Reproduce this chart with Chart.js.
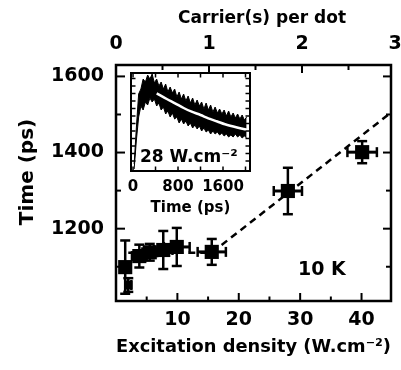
<!DOCTYPE html>
<html><head><meta charset="utf-8">
<script src="https://cdn.jsdelivr.net/npm/chart.js@4/dist/chart.umd.min.js"></script>
<style>
html,body{margin:0;padding:0;background:#fff;}
#wrap{position:relative;width:401px;height:370px;overflow:hidden;}
canvas{position:absolute;left:0;top:0;}
#inset{pointer-events:none;}
</style></head><body>
<div id="wrap"><canvas id="main" width="401" height="370"></canvas><canvas id="inset" width="401" height="370"></canvas></div>
<script>
// ---- main chart data ----
const excitationDensity = [1.5, 2.0, 3.8, 5.5, 7.7, 9.9, 15.6, 28.0, 40.1];
const excitationError   = [0.6, 0.5, 1.2, 1.2, 1.5, 2.1, 2.3, 2.3, 2.4];
const decayTime         = [1099, 1052, 1128, 1138, 1144, 1152, 1139, 1299, 1401];
const decayTimeError    = [70, 18, 30, 22, 50, 50, 34, 61, 29];
const guideDensity = [2.0, 15.6, 44.8];
const guideTime    = [1137, 1137, 1505];

const excitationTicks  = [5, 10, 15, 20, 25, 30, 35, 40];
const excitationLabels = [10, 20, 30, 40];
const timeTicks  = [1100, 1200, 1300, 1400, 1500, 1600];
const timeLabels = [1200, 1400, 1600];
const carrierTicks  = [0, 0.5, 1, 1.5, 2, 2.5, 3];
const carrierLabels = [0, 1, 2, 3];

// ---- inset data (transient at 28 W.cm-2) ----
const insetTime  = [20, 60, 100, 140, 180, 220, 260, 300, 340, 380, 420, 460, 500, 540, 580, 620, 660, 700, 740, 780, 820, 860, 900, 940, 980, 1020, 1060, 1100, 1140, 1180, 1220, 1260, 1300, 1340, 1380, 1420, 1460, 1500, 1540, 1580, 1620, 1660, 1700, 1740, 1780, 1820, 1860, 1900, 1940, 1980, 2020];
const insetUpper = [8, 45, 78, 83, 93, 90, 97, 93, 98, 89, 93, 86, 90, 83, 88, 80, 85, 79, 83, 75, 80, 73, 78, 71, 76, 69, 74, 67, 72, 66, 70, 63, 69, 62, 67, 60, 65, 59, 63, 58, 62, 56, 61, 55, 59, 54, 58, 53, 57, 52, 55];
const insetLower = [3, 32, 55, 66, 62, 70, 67, 74, 70, 73, 66, 69, 62, 65, 58, 61, 55, 59, 53, 55, 49, 53, 48, 51, 46, 49, 44, 47, 43, 46, 41, 44, 40, 42, 38, 41, 38, 40, 37, 39, 36, 38, 35, 37, 35, 38, 35, 37, 34, 36, 34];
const fitTime   = [421, 600, 747, 900, 1043, 1200, 1339, 1500, 1636, 1850, 2050];
const fitSignal = [78.7, 73, 68.7, 64, 60.3, 57, 53.7, 50.5, 47.7, 44.5, 42];
const insetTimeTicks  = [0, 400, 800, 1200, 1600, 2000];
const insetTimeLabels = [0, 800, 1600];
const insetSignalTicks = [11, 18.5, 26, 33.5, 41, 48.5, 56, 63.5, 71, 78.5, 86, 93.5];

const FONT = 'DejaVu Sans';
const pts = (xs, ys) => xs.map((x, i) => ({x, y: ys[i]}));

function framePlugin(cfg) {
  return {
    id: 'frame' + cfg.name,
    afterDraw(chart) {
      const {ctx, chartArea: a, scales} = chart;
      ctx.save();
      ctx.strokeStyle = '#000';
      ctx.lineCap = 'butt';
      ctx.lineWidth = cfg.tickWidth;
      cfg.ticks.forEach(t => {
        const sc = scales[t.scale];
        t.values.forEach(v => {
          const p = sc.getPixelForValue(v);
          const horiz = (t.edge === 'top' || t.edge === 'bottom');
          if (horiz && (p < a.left - 0.5 || p > a.right + 0.5)) return;
          if (!horiz && (p < a.top - 0.5 || p > a.bottom + 0.5)) return;
          const len = t.majors.includes(v) ? t.majorLen : t.minorLen;
          ctx.beginPath();
          if (t.edge === 'bottom') { ctx.moveTo(p, a.bottom); ctx.lineTo(p, a.bottom - len); }
          else if (t.edge === 'top') { ctx.moveTo(p, a.top); ctx.lineTo(p, a.top + len); }
          else if (t.edge === 'left') { ctx.moveTo(a.left, p); ctx.lineTo(a.left + len, p); }
          else { ctx.moveTo(a.right, p); ctx.lineTo(a.right - len, p); }
          ctx.stroke();
        });
      });
      ctx.lineWidth = cfg.borderWidth;
      ctx.strokeRect(a.left, a.top, a.right - a.left, a.bottom - a.top);
      ctx.restore();
    }
  };
}

function textPlugin(name, items) {
  return {
    id: 'text' + name,
    afterDraw(chart) {
      const ctx = chart.ctx;
      items.forEach(it => {
        ctx.save();
        ctx.fillStyle = '#000';
        ctx.font = 'bold ' + it.size + 'px "' + FONT + '"';
        ctx.textAlign = it.align || 'left';
        ctx.textBaseline = it.baseline || 'alphabetic';
        ctx.translate(it.x, it.y);
        if (it.rotate) ctx.rotate(it.rotate);
        ctx.fillText(it.text, 0, 0);
        ctx.restore();
      });
    }
  };
}

const errorBarPlugin = {
  id: 'errorBars',
  afterDatasetsDraw(chart) {
    const {ctx, scales: {x, y}, chartArea: a} = chart;
    ctx.save();
    ctx.beginPath(); ctx.rect(a.left, a.top, a.right - a.left, a.bottom - a.top); ctx.clip();
    ctx.strokeStyle = '#000';
    const seg = (x1, y1, x2, y2) => { ctx.beginPath(); ctx.moveTo(x1, y1); ctx.lineTo(x2, y2); ctx.stroke(); };
    excitationDensity.forEach((xv, i) => {
      const px = x.getPixelForValue(xv), py = y.getPixelForValue(decayTime[i]);
      const yTop = y.getPixelForValue(decayTime[i] + decayTimeError[i]);
      const yBot = y.getPixelForValue(decayTime[i] - decayTimeError[i]);
      const xL = x.getPixelForValue(xv - excitationError[i]);
      const xR = x.getPixelForValue(xv + excitationError[i]);
      ctx.lineWidth = 2.5;
      seg(px, yTop, px, yBot);
      seg(px - 5, yTop, px + 5, yTop);
      seg(px - 5, yBot, px + 5, yBot);
      ctx.lineWidth = 3;
      seg(xL, py, xR, py);
      ctx.lineWidth = 2.5;
      seg(xL, py - 5, xL, py + 5);
      seg(xR, py - 5, xR, py + 5);
    });
    ctx.restore();
  }
};

const tickFont = {family: FONT, weight: 'bold', size: 19};
const noPad = s => { s.paddingLeft = 0; s.paddingRight = 0; s.paddingTop = 0; s.paddingBottom = 0; };

new Chart(document.getElementById('main'), {
  type: 'scatter',
  data: {
    datasets: [
      {
        data: pts(excitationDensity, decayTime),
        pointStyle: 'rect',
        pointRadius: c => (c.dataIndex === 1 ? 6 : 10),
        backgroundColor: '#000',
        borderWidth: 0,
        showLine: false
      },
      {
        data: pts(guideDensity, guideTime),
        showLine: true,
        borderColor: '#000',
        borderWidth: 2.5,
        borderDash: [7, 5],
        pointRadius: 0,
        fill: false
      }
    ]
  },
  options: {
    responsive: false, animation: false, devicePixelRatio: 1,
    layout: {padding: {left: 0, right: 10, top: 0, bottom: 0}},
    plugins: {legend: {display: false}, tooltip: {enabled: false}},
    scales: {
      x: {
        type: 'linear', position: 'bottom', min: 0, max: 44.8,
        afterBuildTicks: s => { s.ticks = excitationTicks.map(v => ({value: v})); },
        ticks: {callback: v => (excitationLabels.includes(v) ? String(v) : ''), autoSkip: false, maxRotation: 0, padding: 8, color: '#000', font: tickFont},
        grid: {display: false, drawTicks: false},
        border: {display: false},
        title: {display: true, text: 'Excitation density (W.cm\u207B\u00B2)', color: '#000', font: {family: FONT, weight: 'bold', size: 18}, padding: {top: 0, bottom: 12}},
        afterFit: s => { s.height = 69; noPad(s); }
      },
      x2: {
        type: 'linear', axis: 'x', position: 'top', min: 0, max: 2.957,
        afterBuildTicks: s => { s.ticks = carrierTicks.map(v => ({value: v})); },
        ticks: {callback: v => (carrierLabels.includes(v) ? String(v) : ''), autoSkip: false, maxRotation: 0, padding: 10, color: '#000', font: tickFont},
        grid: {display: false, drawTicks: false},
        border: {display: false},
        title: {display: false},
        afterFit: s => { s.height = 65; noPad(s); }
      },
      y: {
        type: 'linear', position: 'left', min: 1010, max: 1630,
        afterBuildTicks: s => { s.ticks = timeTicks.map(v => ({value: v})); },
        ticks: {callback: v => (timeLabels.includes(v) ? String(v) : ''), autoSkip: false, padding: 12, color: '#000', font: tickFont},
        grid: {display: false, drawTicks: false},
        border: {display: false},
        title: {display: false},
        afterFit: s => { s.width = 116; noPad(s); }
      }
    }
  },
  plugins: [
    errorBarPlugin,
    framePlugin({name: 'main', borderWidth: 2.5, tickWidth: 2, ticks: [
      {scale: 'x', edge: 'bottom', values: excitationTicks, majors: excitationLabels, majorLen: 8, minorLen: 4.5},
      {scale: 'x2', edge: 'top', values: carrierTicks, majors: carrierLabels, majorLen: 8, minorLen: 5},
      {scale: 'y', edge: 'left', values: timeTicks, majors: timeLabels, majorLen: 9, minorLen: 5},
      {scale: 'y', edge: 'right', values: timeTicks, majors: timeLabels, majorLen: 8, minorLen: 5}
    ]}),
    textPlugin('main', [
      {text: 'Carrier(s) per dot', x: 262, y: 19, size: 17, align: 'center', baseline: 'middle'},
      {text: 'Time (ps)', x: 28, y: 172, size: 20, align: 'center', baseline: 'middle', rotate: -Math.PI / 2},
      {text: '10 K', x: 298, y: 275, size: 19}
    ])
  ]
});

new Chart(document.getElementById('inset'), {
  type: 'line',
  data: {
    datasets: [
      {data: pts(fitTime, fitSignal), borderColor: '#fff', borderWidth: 2.5, pointRadius: 0, fill: false, tension: 0.3},
      {data: pts(insetTime, insetUpper), borderColor: '#000', borderWidth: 1, pointRadius: 0, fill: '+1', backgroundColor: '#000', tension: 0},
      {data: pts(insetTime, insetLower), borderColor: '#000', borderWidth: 1, pointRadius: 0, fill: false, tension: 0}
    ]
  },
  options: {
    responsive: false, animation: false, devicePixelRatio: 1,
    layout: {padding: {left: 131, right: 151, top: 73, bottom: 151}},
    plugins: {legend: {display: false}, tooltip: {enabled: false}},
    scales: {
      x: {
        type: 'linear', position: 'bottom', min: -36, max: 2080,
        afterBuildTicks: s => { s.ticks = insetTimeTicks.map(v => ({value: v})); },
        ticks: {callback: v => (insetTimeLabels.includes(v) ? String(v) : ''), autoSkip: false, maxRotation: 0, padding: 7, color: '#000', font: {family: FONT, weight: 'bold', size: 15}},
        grid: {display: false, drawTicks: false},
        border: {display: false},
        title: {display: true, text: 'Time (ps)', color: '#000', font: {family: FONT, weight: 'bold', size: 15}, padding: {top: 0, bottom: 2}},
        afterFit: s => { s.height = 48; noPad(s); }
      },
      y: {
        type: 'linear', position: 'left', min: 1, max: 99,
        ticks: {display: false},
        grid: {display: false, drawTicks: false},
        border: {display: false},
        afterFit: s => { s.width = 0; noPad(s); }
      }
    }
  },
  plugins: [
    framePlugin({name: 'inset', borderWidth: 2, tickWidth: 1.5, ticks: [
      {scale: 'x', edge: 'bottom', values: insetTimeTicks, majors: [], majorLen: 4.5, minorLen: 4.5},
      {scale: 'x', edge: 'top', values: insetTimeTicks, majors: [], majorLen: 4.5, minorLen: 4.5},
      {scale: 'y', edge: 'left', values: insetSignalTicks, majors: [], majorLen: 4.5, minorLen: 4.5},
      {scale: 'y', edge: 'right', values: insetSignalTicks, majors: [], majorLen: 4.5, minorLen: 4.5}
    ]}),
    textPlugin('inset', [
      {text: '28 W.cm\u207B\u00B2', x: 140, y: 162, size: 17}
    ])
  ]
});
</script>
</body></html>
